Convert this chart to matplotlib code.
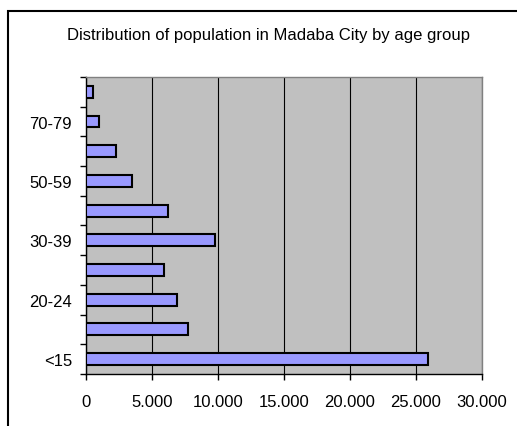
import matplotlib
matplotlib.use("Agg")
from matplotlib import pyplot
from matplotlib.patches import Rectangle
from matplotlib.ticker import FuncFormatter, FixedLocator

# 年齢階級別の人口
age_groups = ["<15", "15-19", "20-24", "25-29", "30-39",
              "40-49", "50-59", "60-69", "70-79", "80+"]
population = [25900, 7700, 6900, 5900, 9800, 6200, 3500, 2300, 1000, 500]
x_ticks = [0, 5000, 10000, 15000, 20000, 25000, 30000]

pyplot.rcParams["font.family"] = ["Liberation Sans", "DejaVu Sans"]

fig = pyplot.figure(figsize=(5.17, 4.27), dpi=100)
ax = fig.add_axes([0.1663, 0.1218, 0.766, 0.6956])

# 外枠
fig.patches.append(Rectangle((8 / 517, -0.1), 1.2, 1 - 12 / 427 + 0.1,
                             transform=fig.transFigure, fill=False,
                             edgecolor="black", linewidth=1.5))

ypos = list(range(len(age_groups)))
ax.barh(ypos, population, height=0.4, color="#9999FF",
        edgecolor="black", linewidth=1.5, zorder=3)

ax.set_facecolor("#C0C0C0")
ax.set_xlim(0, 30000)
ax.set_ylim(-0.5, len(age_groups) - 0.5)

ax.set_xticks(x_ticks)
ax.xaxis.set_major_formatter(
    FuncFormatter(lambda v, p: f"{int(v):,}".replace(",", ".")))
ax.grid(axis="x", color="black", linewidth=0.8, zorder=1)

# y軸: 目盛りは区切り位置、ラベルは1つおき
ax.yaxis.set_major_locator(FixedLocator([i - 0.5 for i in range(len(age_groups) + 1)]))
ax.yaxis.set_major_formatter(FuncFormatter(lambda v, p: ""))
ax.yaxis.set_minor_locator(FixedLocator(ypos[::2]))
ax.set_yticklabels(age_groups[::2], minor=True)

ax.tick_params(axis="y", which="major", length=4.5, width=1, direction="out")
ax.tick_params(axis="y", which="minor", length=0, pad=10, labelsize=12)
ax.tick_params(axis="x", length=4.5, width=1, direction="out", pad=10, labelsize=12)

for side in ("left", "bottom"):
    ax.spines[side].set_color("black")
    ax.spines[side].set_linewidth(1)
for side in ("top", "right"):
    ax.spines[side].set_color("#808080")
    ax.spines[side].set_linewidth(1)

fig.text(0.519, 0.916, "Distribution of population in Madaba City by age group",
         ha="center", va="center", fontsize=12)

fig.savefig("out.png", dpi=100)
pyplot.close(fig)
